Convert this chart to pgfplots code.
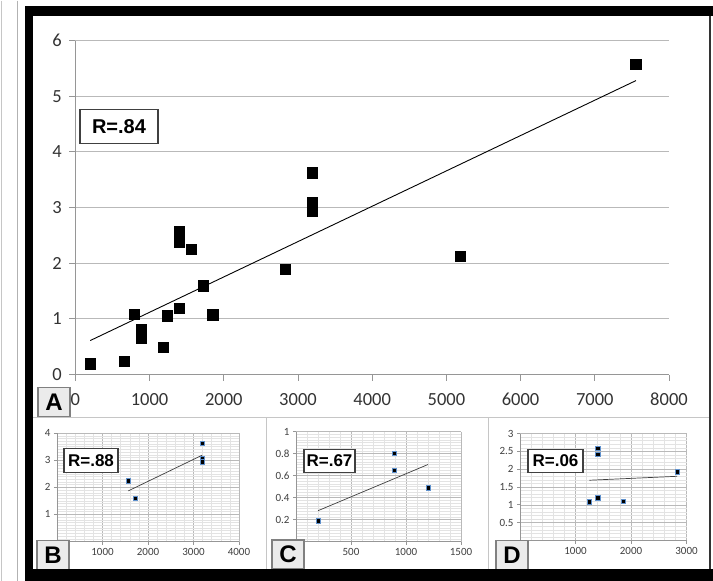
\documentclass[border=0pt]{standalone}
\usepackage{pgfplots}
\pgfplotsset{compat=1.18}
\usepackage{fontspec}
\setmainfont{Carlito}
\newfontfamily\arial{Liberation Sans}
\definecolor{mkblue}{RGB}{95,145,205}
\definecolor{gridmain}{RGB}{185,185,185}
\definecolor{axgray}{RGB}{150,150,150}
\pgfplotsset{
  every axis/.append style={
    scale only axis, anchor=south west,
    axis x line=bottom, axis y line=left,
    axis line style={-, draw=axgray, line width=0.8pt},
    tick style={axgray, line width=0.8pt},
    tick align=outside,
    /pgf/number format/.cd, 1000 sep={}, assume math mode=true,
  },
  small/.style={
    xmajorgrids, ymajorgrids, xminorgrids, yminorgrids,
    major grid style={gray!55, line width=0.6pt},
    minor grid style={gray!22, line width=0.5pt},
    minor tick length=0pt, major tick length=3pt,
    ticklabel style={font=\fontsize{11}{13}\selectfont, text=black!75},
  },
  mk/.style={only marks, mark=square*, mark size=#1, mark options={fill=black, draw=mkblue, line width=0.6pt}},
}
\begin{document}
\begin{tikzpicture}
\fill[white] (0pt,0pt) rectangle (713pt,-580pt);
% main chart
\begin{axis}[at={(75.4pt,-374pt)}, width=593.6pt, height=334pt,
  xmin=0, xmax=8000, ymin=0, ymax=6,
  xtick={0,1000,...,8000}, ytick={0,1,...,6},
  ymajorgrids, major grid style={gridmain, line width=1pt},
  major tick length=6pt,
  ticklabel style={font=\fontsize{18.5}{20}\selectfont, text=black!80},
  xticklabel style={yshift=-9pt}, yticklabel style={xshift=-4pt}]
\addplot[mk=5pt, mark options={line width=1.2pt}] coordinates {
(200,0.19) (660,0.23) (800,1.08) (895,0.81) (895,0.65) (1190,0.49)
(1240,1.05) (1400,1.18) (1400,2.57) (1400,2.38) (1567,2.24) (1724,1.59)
(1855,1.07) (2830,1.89) (3193,3.62) (3193,3.08) (3193,2.93) (5185,2.12)
(7555,5.57)};
\addplot[black, line width=0.9pt, no marks] coordinates {(200,0.61) (7555,5.28)};
\end{axis}
% panel B
\begin{axis}[small, at={(57pt,-541pt)}, width=182pt, height=108.3pt,
  xmin=0, xmax=4000, ymin=0, ymax=4,
  xtick={0,1000,...,4000}, xticklabels={,1000,2000,3000,4000},
  ytick={0,1,...,4}, yticklabels={,1,2,3,4},
  minor x tick num=4, minor y tick num=9]
\addplot[mk=2.2pt] coordinates {(1567,2.24) (1724,1.59) (3193,3.62) (3193,3.06) (3193,2.95)};
\addplot[black!75, line width=0.7pt, no marks] coordinates {(1567,1.87) (3193,3.19)};
\end{axis}
% panel C
\begin{axis}[small, at={(296pt,-541pt)}, width=165pt, height=110pt,
  xmin=0, xmax=1500, ymin=0, ymax=1,
  xtick={0,500,1000,1500}, xticklabels={,500,1000,1500},
  ytick={0,0.2,0.4,0.6,0.8,1}, yticklabels={,0.2,0.4,0.6,0.8,1},
  minor x tick num=4, minor y tick num=7]
\addplot[mk=2.2pt] coordinates {(200,0.19) (895,0.80) (895,0.645) (1200,0.49)};
\addplot[black!75, line width=0.7pt, no marks] coordinates {(200,0.28) (1200,0.70)};
\end{axis}
% panel D
\begin{axis}[small, at={(520pt,-540pt)}, width=166.5pt, height=107pt,
  xmin=0, xmax=3000, ymin=0, ymax=3,
  xtick={0,1000,2000,3000}, xticklabels={,1000,2000,3000},
  ytick={0,0.5,1,1.5,2,2.5,3}, yticklabels={,0.5,1,1.5,2,2.5,3},
  minor x tick num=4, minor y tick num=4]
\addplot[mk=2.2pt] coordinates {(1250,1.08) (1400,1.2) (1400,2.42) (1400,2.59) (1860,1.1) (2830,1.93)};
\addplot[black!75, line width=0.7pt, no marks] coordinates {(1250,1.69) (2830,1.80)};
\end{axis}
% labels
\tikzset{rbox/.style={draw=black!75, fill=white, line width=1.4pt, inner sep=0pt},
  lbox/.style={draw=black!50, fill=black!8, line width=1.4pt, inner sep=0pt,
    minimum width=32pt, minimum height=29pt, font=\arial\bfseries\fontsize{24}{26}\selectfont}}
\node[rbox, minimum width=78pt, minimum height=34pt, font=\arial\bfseries\fontsize{20}{24}\selectfont] at (119pt,-126pt) {R=.84};
\node[rbox, minimum width=54pt, minimum height=24pt, font=\arial\bfseries\fontsize{17}{20}\selectfont] at (91pt,-460pt) {R=.88};
\node[rbox, minimum width=51pt, minimum height=23pt, font=\arial\bfseries\fontsize{17}{20}\selectfont] at (329.5pt,-460.5pt) {R=.67};
\node[rbox, minimum width=55pt, minimum height=23pt, font=\arial\bfseries\fontsize{17}{20}\selectfont] at (555.5pt,-460.5pt) {R=.06};
\node[lbox] at (54pt,-401.5pt) {A};
\node[lbox] at (53pt,-554.5pt) {B};
\node[lbox] at (288pt,-554pt) {C};
\node[lbox] at (512pt,-554.5pt) {D};
% frame
\draw[gray!45, line width=0.8pt] (1pt,0pt) -- (1pt,-580pt);
\draw[gray!60, line width=1pt] (17pt,0pt) -- (17pt,-580pt);
\draw[gray!45, line width=0.8pt] (33pt,-417pt) -- (710pt,-417pt);
\draw[gray!45, line width=0.8pt] (266pt,-417pt) -- (266pt,-568pt);
\draw[gray!45, line width=0.8pt] (488pt,-417pt) -- (488pt,-568pt);
\draw[black!80, line width=1.2pt] (710pt,-15pt) -- (710pt,-568pt);
\fill[black] (25pt,-5pt) rectangle (713pt,-15pt);
\fill[black] (25pt,-5pt) rectangle (33pt,-580pt);
\fill[black] (25pt,-568pt) rectangle (713pt,-580pt);
\end{tikzpicture}
\end{document}
